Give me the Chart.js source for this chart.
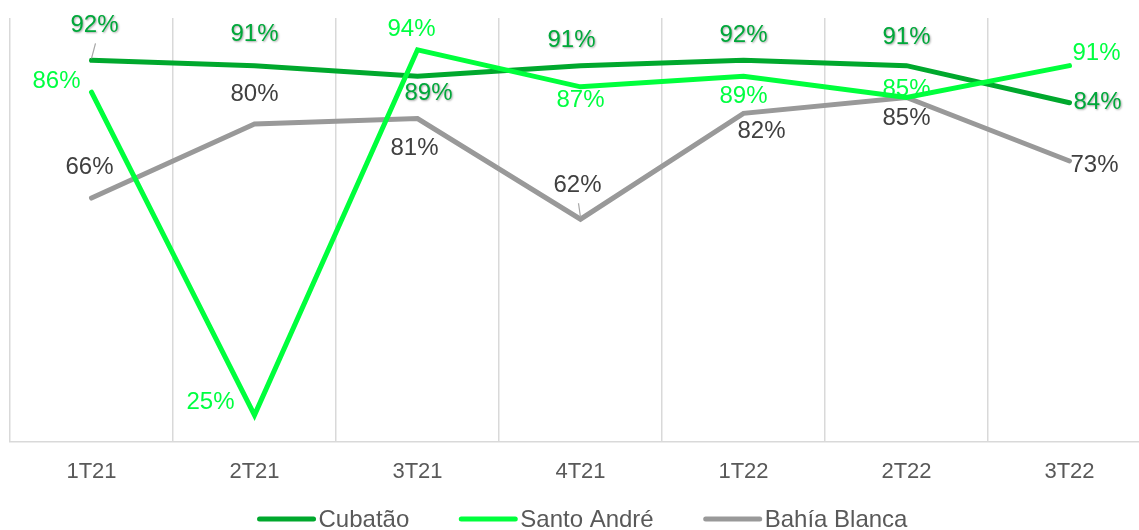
<!DOCTYPE html>
<html>
<head>
<meta charset="utf-8">
<script src="https://cdn.jsdelivr.net/npm/chart.js@4/dist/chart.umd.min.js"></script>
<style>
  html, body { margin: 0; padding: 0; background: #fff; overflow: hidden; }
  #wrap { width: 1160px; height: 530px; }
</style>
</head>
<body>
<div id="wrap"><canvas id="chart" width="1160" height="530"></canvas></div>
<script>
// quarters and series values (%)
const quarters = ["1T21", "2T21", "3T21", "4T21", "1T22", "2T22", "3T22"];
const cubatao = [92, 91, 89, 91, 92, 91, 84];
const santoAndre = [86, 25, 94, 87, 89, 85, 91];
const bahiaBlanca = [66, 80, 81, 62, 82, 85, 73];

// where each data label sits relative to its point
const labelOffsets = [
    [[3, -35], [0, -31], [11, 17], [-9, -25], [0, -25], [0, -28], [28, 0]],
    [[-35, -11], [-44, -13], [-6, -20], [0, 14], [0, 20], [0, -8], [27, -12]],
    [[-2, -31], [0, -30], [-3, 30], [-3, -34], [18, 18], [0, 21], [25, 4]]
];
// labels with a small leader line
const leaders = [[0], [], [3]];
const labelColors = ["#00A83A", "#00FF41", "#404040"];
const FONT = "'Liberation Sans', Arial, sans-serif";

const dataLabels = {
    id: "dataLabels",
    afterDatasetsDraw(chart) {
        const ctx = chart.ctx;
        ctx.save();
        ctx.font = "24px " + FONT;
        ctx.textAlign = "center";
        ctx.textBaseline = "middle";
        chart.data.datasets.forEach((ds, i) => {
            const meta = chart.getDatasetMeta(i);
            meta.data.forEach((pt, j) => {
                const off = labelOffsets[i][j];
                const lx = pt.x + off[0];
                const ly = pt.y + off[1];
                if (leaders[i].includes(j)) {
                    ctx.shadowColor = "transparent";
                    ctx.strokeStyle = "#A6A6A6";
                    ctx.lineWidth = 1.2;
                    ctx.beginPath();
                    ctx.moveTo(lx + 1, ly + 18);
                    ctx.lineTo(pt.x, pt.y - 2);
                    ctx.stroke();
                }
                if (i === 0) {
                    ctx.shadowColor = "rgba(0,0,0,0.35)";
                    ctx.shadowBlur = 2;
                    ctx.shadowOffsetX = 1;
                    ctx.shadowOffsetY = 1;
                } else {
                    ctx.shadowColor = "transparent";
                }
                ctx.fillStyle = labelColors[i];
                ctx.fillText(ds.data[j] + "%", lx, ly);
            });
        });
        ctx.restore();
    }
};

// legend drawn by hand: thick line sample right against the text
const lineLegend = {
    id: "lineLegend",
    afterDraw(chart) {
        const ctx = chart.ctx;
        const lineW = 58, gap = 3, spacing = 50;
        ctx.save();
        ctx.font = "24px " + FONT;
        ctx.textBaseline = "middle";
        const items = chart.data.datasets.map(ds => ({
            text: ds.label,
            color: ds.borderColor,
            w: lineW + gap + ctx.measureText(ds.label).width
        }));
        const total = items.reduce((s, it) => s + it.w, 0) + spacing * (items.length - 1);
        let x = (chart.chartArea.left + 1155) / 2 - total / 2;
        const y = chart.height - 11;
        items.forEach(it => {
            ctx.strokeStyle = it.color;
            ctx.lineWidth = 5;
            ctx.lineCap = "round";
            ctx.beginPath();
            ctx.moveTo(x + 2, y);
            ctx.lineTo(x + lineW - 2, y);
            ctx.stroke();
            ctx.fillStyle = "#595959";
            ctx.fillText(it.text, x + lineW + gap, y + 1);
            x += it.w + spacing;
        });
        ctx.restore();
    }
};

const ctx = document.getElementById("chart").getContext("2d");
new Chart(ctx, {
    type: "line",
    data: {
        labels: quarters,
        datasets: [{
            label: "Cubatão",
            data: cubatao,
            borderColor: "#00A82D",
            borderWidth: 5,
            order: 2
        }, {
            label: "Santo André",
            data: santoAndre,
            borderColor: "#00FF3C",
            borderWidth: 5,
            order: 1
        }, {
            label: "Bahía Blanca",
            data: bahiaBlanca,
            borderColor: "#999999",
            borderWidth: 5,
            order: 3
        }]
    },
    options: {
        responsive: false,
        animation: false,
        elements: {
            line: { tension: 0, borderCapStyle: "round" },
            point: { radius: 0, hoverRadius: 0 }
        },
        layout: { padding: { left: 10, right: 9, top: 18, bottom: 28 } },
        scales: {
            x: {
                offset: true,
                grid: { offset: true, color: "#D9D9D9", lineWidth: 1.5, drawTicks: false },
                border: { color: "#D9D9D9", width: 1.5 },
                ticks: {
                    color: "#595959",
                    padding: 17,
                    font: { family: FONT, size: 22 }
                }
            },
            y: {
                display: false,
                min: 20,
                max: 100
            }
        },
        plugins: {
            legend: { display: false },
            tooltip: { enabled: false }
        }
    },
    plugins: [dataLabels, lineLegend]
});
</script>
</body>
</html>
